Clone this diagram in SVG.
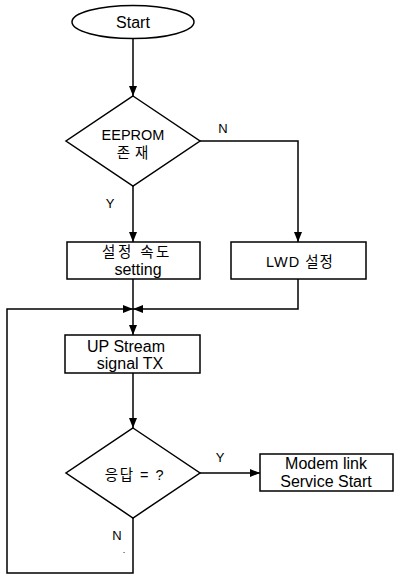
<svg xmlns="http://www.w3.org/2000/svg" width="394" height="575" viewBox="0 0 394 575">
<style>
.s{fill:#fff;stroke:#000;stroke-width:1.5}
.l{fill:none;stroke:#000;stroke-width:1.5}
text{font-family:"Liberation Sans","Noto Sans CJK KR",Arial,sans-serif;font-size:16px;fill:#000;text-anchor:middle}
.lb{font-size:13px}
.k{font-size:14.5px;letter-spacing:2.5px}
</style>
<defs>
<marker id="a" markerWidth="10" markerHeight="8" refX="10" refY="4" orient="auto" markerUnits="userSpaceOnUse">
<path d="M0,0 L10,4 L0,8 Z" fill="#000"/>
</marker>
</defs>
<rect width="394" height="575" fill="#fff"/>
<g id="connectors">
<line class="l" x1="133" y1="38" x2="133" y2="96" marker-end="url(#a)"/>
<polyline class="l" points="200,141 298,141 298,242" marker-end="url(#a)"/>
<line class="l" x1="133" y1="186" x2="133" y2="242" marker-end="url(#a)"/>
<line class="l" x1="133" y1="279" x2="133" y2="309"/>
<polyline class="l" points="298,279 298,309 133,309" marker-end="url(#a)"/>
<line class="l" x1="133" y1="309" x2="133" y2="335" marker-end="url(#a)"/>
<line class="l" x1="133" y1="373" x2="133" y2="428" marker-end="url(#a)"/>
<line class="l" x1="200" y1="473" x2="260" y2="473" marker-end="url(#a)"/>
<polyline class="l" points="133,518 133,573 7,573 7,309 133,309" marker-end="url(#a)"/>
<text class="lb" x="223" y="133">N</text>
<text class="lb" x="110" y="208">Y</text>
<text class="lb" x="220" y="462">Y</text>
<text class="lb" x="117" y="540">N</text>
<text x="124" y="553" style="font-size:9px">.</text>
</g>
<g id="start">
<ellipse class="s" cx="133" cy="22" rx="61" ry="16.5"/>
<text x="133" y="28">Start</text>
</g>
<g id="eeprom">
<polygon class="s" points="133,96 200,141 133,186 66,141"/>
<text x="133" y="140" style="font-size:14.5px">EEPROM</text>
<text class="k" x="135" y="158" style="letter-spacing:5px">존재</text>
</g>
<g id="speed">
<rect class="s" x="67" y="242" width="133" height="37"/>
<text class="k" x="137" y="257">설정 속도</text>
<text x="138" y="275">setting</text>
</g>
<g id="lwd">
<rect class="s" x="231" y="242" width="135" height="37"/>
<text class="k" x="300" y="267" style="letter-spacing:1px">LWD 설정</text>
</g>
<g id="upstream">
<rect class="s" x="65" y="335" width="135" height="38"/>
<text x="126" y="352">UP Stream</text>
<text x="130" y="369">signal TX</text>
</g>
<g id="response">
<polygon class="s" points="133,428 200,473 133,518 66,473"/>
<text class="k" x="135" y="480" style="letter-spacing:1.5px">응답 = ?</text>
</g>
<g id="modem">
<rect class="s" x="260" y="454" width="133" height="37"/>
<text x="326" y="469">Modem link</text>
<text x="326" y="487">Service Start</text>
</g>
</svg>
